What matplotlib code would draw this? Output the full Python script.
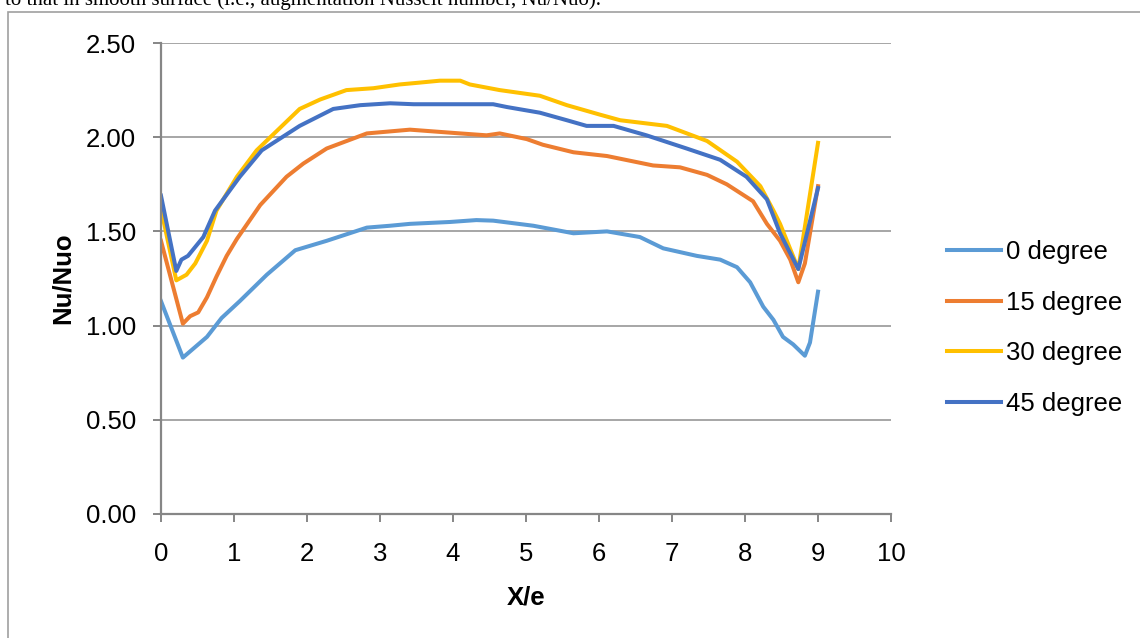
import matplotlib.pyplot as plt
from matplotlib.patches import Rectangle

# Nu/Nuo along the ribbed duct for four rib angles
xe_0 = [0, 0.30, 0.63, 0.83, 1.08, 1.45, 1.84, 2.27, 2.82, 3.14, 3.41, 3.96, 4.32, 4.55,
        5.10, 5.65, 6.11, 6.56, 6.88, 7.34, 7.66, 7.89, 8.07, 8.25, 8.39, 8.52, 8.66,
        8.82, 8.89, 9.0]
nu_0 = [1.13, 0.83, 0.94, 1.04, 1.13, 1.27, 1.40, 1.45, 1.52, 1.53, 1.54, 1.55, 1.56, 1.557,
        1.53, 1.49, 1.50, 1.47, 1.41, 1.37, 1.35, 1.31, 1.23, 1.10, 1.03, 0.94, 0.90,
        0.84, 0.91, 1.18]

xe_15 = [0, 0.30, 0.40, 0.51, 0.63, 0.76, 0.90, 1.04, 1.36, 1.72, 1.95, 2.27, 2.82, 3.41,
         4.10, 4.46, 4.64, 5.01, 5.23, 5.65, 6.11, 6.74, 7.11, 7.48, 7.75, 8.11, 8.30,
         8.48, 8.62, 8.73, 8.82, 9.0]
nu_15 = [1.45, 1.01, 1.05, 1.07, 1.15, 1.26, 1.37, 1.46, 1.64, 1.79, 1.86, 1.94, 2.02, 2.04,
         2.02, 2.01, 2.02, 1.99, 1.96, 1.92, 1.90, 1.85, 1.84, 1.80, 1.75, 1.66, 1.54,
         1.45, 1.35, 1.23, 1.33, 1.74]

xe_30 = [0, 0.21, 0.35, 0.47, 0.63, 0.76, 1.04, 1.31, 1.90, 2.18, 2.54, 2.91, 3.27, 3.55,
         3.82, 4.10, 4.23, 4.64, 5.19, 5.56, 6.01, 6.29, 6.93, 7.48, 7.89, 8.21, 8.39,
         8.48, 8.73, 9.0]
nu_30 = [1.62, 1.24, 1.27, 1.33, 1.45, 1.61, 1.79, 1.93, 2.15, 2.20, 2.25, 2.26, 2.28, 2.29,
         2.30, 2.30, 2.28, 2.25, 2.22, 2.17, 2.12, 2.09, 2.06, 1.98, 1.87, 1.74, 1.61,
         1.54, 1.30, 1.97]

xe_45 = [0, 0.21, 0.28, 0.37, 0.58, 0.74, 1.08, 1.38, 1.90, 2.36, 2.73, 3.14, 3.46, 4.55,
         4.74, 5.19, 5.56, 5.83, 6.20, 6.65, 7.20, 7.66, 8.02, 8.30, 8.48, 8.73, 9.0]
nu_45 = [1.69, 1.29, 1.35, 1.37, 1.47, 1.61, 1.79, 1.93, 2.06, 2.15, 2.17, 2.18, 2.175, 2.175,
         2.16, 2.13, 2.09, 2.06, 2.06, 2.01, 1.94, 1.88, 1.79, 1.67, 1.49, 1.30, 1.73]

labels = ['0 degree', '15 degree', '30 degree', '45 degree']
colors = ['#5B9BD5', '#ED7D31', '#FFC000', '#4472C4']

plt.rcParams['font.family'] = ['Liberation Sans', 'DejaVu Sans']

fig = plt.figure(figsize=(11.4, 6.38), dpi=100)
ax = fig.add_axes([0.1412, 0.1944, 0.6404, 0.7382])

for xs, ys, lab, c in zip([xe_0, xe_15, xe_30, xe_45], [nu_0, nu_15, nu_30, nu_45], labels, colors):
    ax.plot(xs, ys, color=c, linewidth=2.9, label=lab, solid_joinstyle='round')

ax.set_xlim(0, 10)
ax.set_ylim(0, 2.5)
ax.set_xticks(range(0, 11))
ax.set_yticks([0, 0.5, 1.0, 1.5, 2.0, 2.5])
ax.set_yticklabels(['0.00', '0.50', '1.00', '1.50', '2.00', '2.50'])
ax.yaxis.grid(True, color='#A6A6A6', linewidth=1.4)
ax.set_axisbelow(True)
for s in ['top', 'right']:
    ax.spines[s].set_visible(False)
for s in ['left', 'bottom']:
    ax.spines[s].set_color('#868686')
    ax.spines[s].set_linewidth(1.6)
ax.tick_params(axis='both', colors='#868686', length=6, width=1.4, labelsize=18.5,
               labelcolor='black')
ax.tick_params(axis='y', pad=12)
ax.tick_params(axis='x', pad=14)
ax.set_xlabel('X/e', fontsize=18.5, fontweight='bold', labelpad=14)
ax.set_ylabel('Nu/Nuo', fontsize=18.5, fontweight='bold', labelpad=8)

ax.legend(loc='center left', bbox_to_anchor=(947 / 1140, (638 - 328) / 638),
          bbox_transform=fig.transFigure, frameon=False, fontsize=18.5,
          borderaxespad=0, borderpad=0,
          handlelength=2.1, handletextpad=0.2, labelspacing=1.03)

# outer chart border and the caption line above it
fig.patches.append(Rectangle((8 / 1140, -0.1), 1.2, (638 - 12) / 638 + 0.1,
                             transform=fig.transFigure, fill=False,
                             edgecolor='#A0A0A0', linewidth=1.2))
fig.text(0.004, 1.0, 'to that in smooth surface (i.e., augmentation Nusselt number, Nu/Nuo).',
         family=['Liberation Serif', 'DejaVu Serif'], fontsize=15, va='center', ha='left')

fig.savefig('out.png', dpi=100)
